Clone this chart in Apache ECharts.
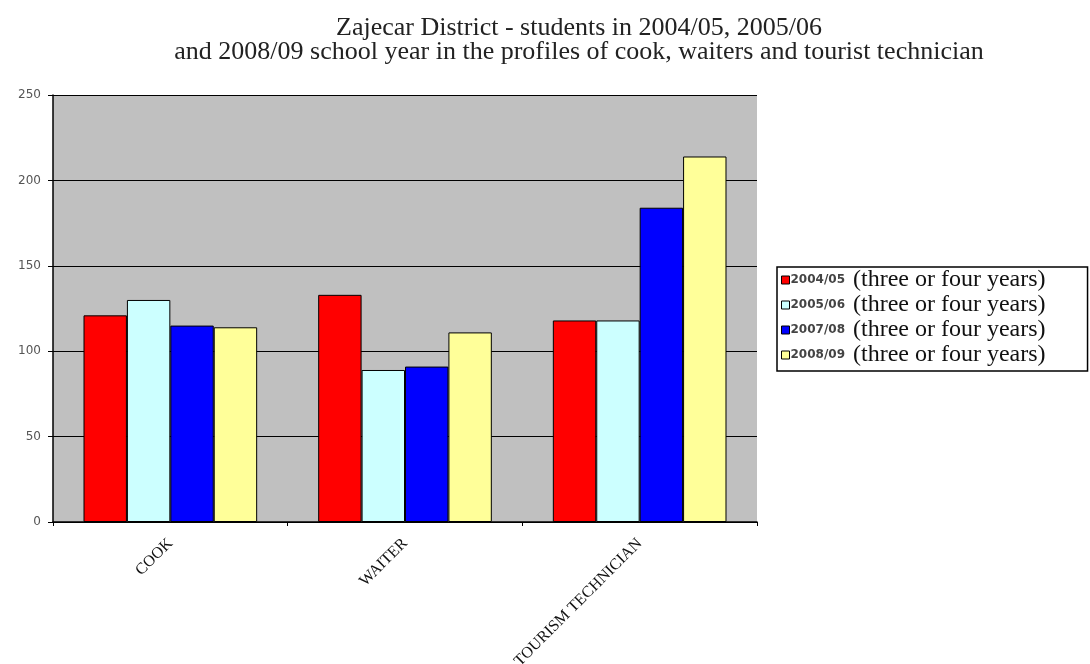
<!DOCTYPE html>
<html>
<head>
<meta charset="utf-8">
<script src="https://cdn.jsdelivr.net/npm/echarts@6/dist/echarts.min.js"></script>
<style>
  html, body { margin: 0; padding: 0; background: #ffffff; }
  #chart { width: 1090px; height: 664px; }
</style>
</head>
<body>
<div id="chart"></div>
<script>
// Students per profile in the Zajecar District
const categories = ['COOK', 'WAITER', 'TOURISM TECHNICIAN'];
const years = ['2004/05', '2005/06', '2007/08', '2008/09'];
const suffix = '(three or four years)';
const students0405 = [121, 133, 118];
const students0506 = [130, 89, 118];
const students0708 = [115, 91, 184];
const students0809 = [114, 111, 214];
const yTicks = [0, 50, 100, 150, 200, 250];

const colors = ['#ff0000', '#ccffff', '#0000ff', '#ffff99'];
const seriesValues = [students0405, students0506, students0708, students0809];

const chart = echarts.init(document.getElementById('chart'), null, { renderer: 'canvas' });

chart.setOption({
  animation: false,
  backgroundColor: '#ffffff',
  title: {
    text: 'Zajecar District - students in 2004/05, 2005/06\nand 2008/09 school year in the profiles of cook, waiters and tourist technician',
    left: 574,
    top: 11,
    textAlign: 'center',
    textStyle: {
      fontFamily: 'Liberation Serif',
      fontSize: 26,
      fontWeight: 'normal',
      color: '#222',
      lineHeight: 24
    }
  },
  legend: {
    orient: 'vertical',
    left: 777,
    top: 267,
    itemWidth: 8,
    itemHeight: 8,
    itemGap: 1,
    padding: [1, 42, 4, 4],
    borderColor: '#000',
    borderWidth: 1.5,
    backgroundColor: '#ffffff',
    data: years.map(y => ({ name: y, icon: 'rect', itemStyle: { borderColor: '#000', borderWidth: 1 } })),
    formatter: name => '{a|' + name + '}{b|' + suffix + '}',
    textStyle: {
      padding: [0, 0, 0, -4],
      rich: {
        a: { fontFamily: 'DejaVu Sans', fontSize: 12, fontWeight: 'bold', color: '#444' },
        b: { fontFamily: 'Liberation Serif', fontSize: 24, color: '#111', lineHeight: 20, padding: [0, 0, 0, 8] }
      }
    }
  },
  grid: {
    left: 53,
    right: 333,
    top: 95,
    bottom: 142,
    outerBoundsMode: 'none',
    show: true,
    backgroundColor: '#c0c0c0',
    borderWidth: 0
  },
  xAxis: {
    type: 'category',
    data: categories,
    axisLine: { lineStyle: { color: '#000', width: 1.5 } },
    axisTick: { show: true, alignWithLabel: false, length: 4, lineStyle: { color: '#000' } },
    axisLabel: {
      rotate: 45,
      interval: 0,
      margin: 19,
      fontFamily: 'Liberation Serif',
      fontSize: 16,
      color: '#111'
    }
  },
  yAxis: {
    type: 'value',
    min: 0,
    max: 250,
    interval: 50,
    axisLine: { show: true, lineStyle: { color: '#000', width: 1.5 } },
    axisTick: { show: true, length: 5, lineStyle: { color: '#000' } },
    splitLine: { show: true, lineStyle: { color: '#000', width: 1.2 } },
    axisLabel: {
      margin: 12,
      fontFamily: 'DejaVu Sans',
      fontSize: 12,
      color: '#555',
      formatter: v => (yTicks.includes(v) ? String(v) : '')
    }
  },
  series: years.map((y, i) => ({
    name: y,
    type: 'bar',
    data: seriesValues[i],
    barGap: '0%',
    barCategoryGap: '26%',
    itemStyle: { color: colors[i], borderColor: '#000', borderWidth: 1 }
  }))
});
</script>
</body>
</html>
